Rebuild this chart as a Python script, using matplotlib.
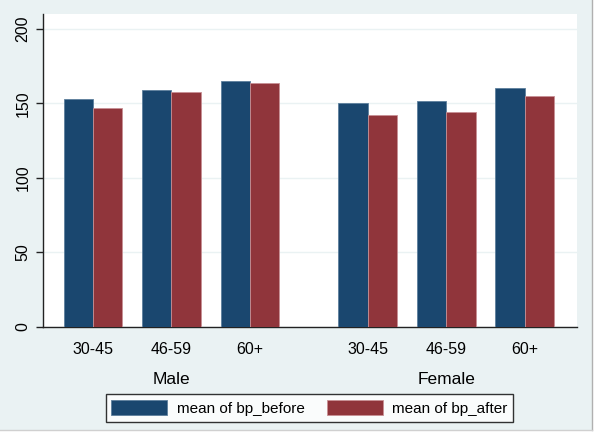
import matplotlib
matplotlib.use("Agg")
import matplotlib.pyplot as plt
from matplotlib.patches import Patch, Rectangle
from matplotlib.lines import Line2D
from matplotlib.transforms import blended_transform_factory
import numpy as np

plt.rcParams['font.family'] = ['Liberation Sans', 'DejaVu Sans']

sexes = ["Male", "Female"]
age_groups = ["30-45", "46-59", "60+"]
bp_before = [153.2, 159.3, 165.1, 150.1, 151.7, 160.2]
bp_after = [146.8, 157.5, 163.5, 142.5, 144.1, 155.0]
series_labels = ["mean of bp_before", "mean of bp_after"]
yticks = [0, 50, 100, 150, 200]

BG = "#EAF2F3"
BLUE = "#1A476F"
RED = "#90353B"
FS = 11.5

fig = plt.figure(figsize=(5.95, 4.32), dpi=100, facecolor=BG)
ax = fig.add_axes([43/595, 1-327/432, (577-43)/595, (327-14)/432])
ax.set_facecolor("white")

pos = []
for si in range(len(sexes)):
    for ai in range(len(age_groups)):
        pos.append(si * (len(age_groups) + 0.5) + ai)
pos = np.array(pos)
w = 0.375
ax.bar(pos - w/2, bp_before, width=w, color=BLUE, edgecolor="#5d7f9c", linewidth=0.6, zorder=3)
ax.bar(pos + w/2, bp_after, width=w, color=RED, edgecolor="#c89095", linewidth=0.6, zorder=3)

ax.set_xlim(-0.637, 6.166)
ax.set_ylim(0, 210)
ax.set_yticks(yticks)
ax.set_yticklabels([str(t) for t in yticks], rotation=90, va="center", fontsize=FS)
ax.yaxis.grid(True, color=BG, linewidth=1.0, zorder=0)
ax.tick_params(axis="y", direction="out", length=5, width=1, color="#222222", pad=4)
ax.set_xticks(pos)
ax.set_xticklabels(age_groups * len(sexes), fontsize=FS)
ax.tick_params(axis="x", length=0, pad=10.5)
for s in ["top", "right"]:
    ax.spines[s].set_visible(False)
for s in ["left", "bottom"]:
    ax.spines[s].set_color("#222222")
    ax.spines[s].set_linewidth(1.0)

tr = blended_transform_factory(ax.transData, fig.transFigure)
for si, sx in enumerate(sexes):
    c = pos[si*len(age_groups):(si+1)*len(age_groups)].mean()
    ax.text(c, 1-379/432, sx, transform=tr, ha="center", va="center", fontsize=12.5)

LFS = 11
handles = [Patch(facecolor=BLUE, edgecolor="#5d7f9c", linewidth=0.6),
           Patch(facecolor=RED, edgecolor="#c89095", linewidth=0.6)]
leg = fig.legend(handles, series_labels, loc="center", bbox_to_anchor=(309.5/595, 1-408/432),
                 ncol=2, fontsize=LFS, frameon=True, fancybox=False,
                 handlelength=3.66, handleheight=1.11, handletextpad=0.63,
                 columnspacing=1.44, borderpad=0.38, borderaxespad=0)
leg.get_frame().set_edgecolor("black")
leg.get_frame().set_linewidth(1.0)
leg.get_frame().set_facecolor("white")

# screenshot border (right & bottom)
fig.patches.append(Rectangle((592/595, 0), 3/595, 1, transform=fig.transFigure, facecolor="white", edgecolor="none"))
fig.patches.append(Rectangle((0, 0), 1, 2/432, transform=fig.transFigure, facecolor="white", edgecolor="none"))
fig.lines.append(Line2D([592/595, 592/595], [2/432, 1], transform=fig.transFigure, color="#b0b0b0", linewidth=1))
fig.lines.append(Line2D([0, 592/595], [2/432, 2/432], transform=fig.transFigure, color="#d0d0d0", linewidth=1))

fig.savefig("out.png", dpi=100, facecolor=BG)
